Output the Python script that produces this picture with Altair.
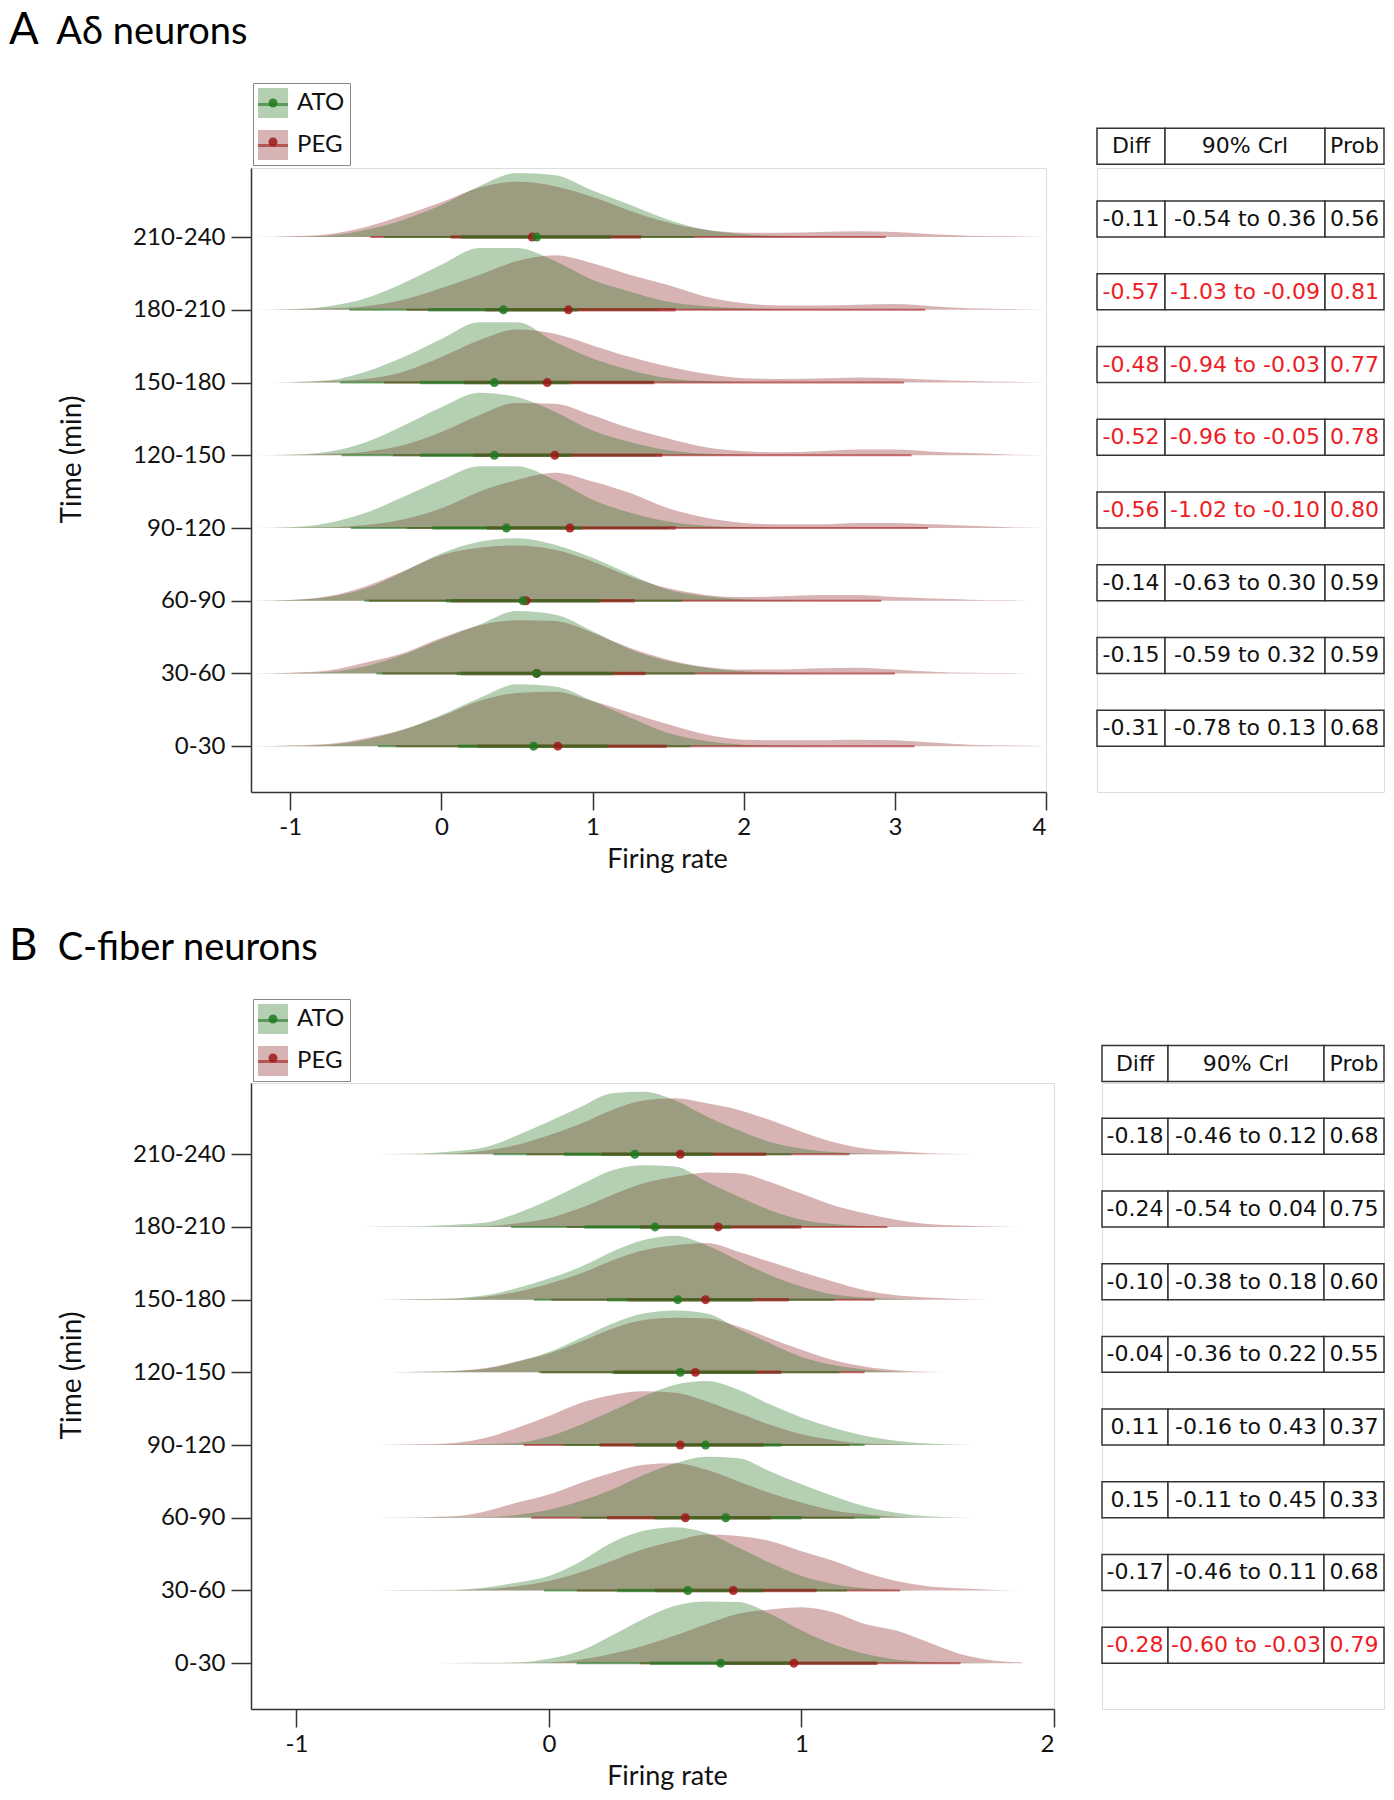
import json
import altair as alt
import pandas as pd

# ---------------------------------------------------------------- data
ROWS = ["0-30", "30-60", "60-90", "90-120", "120-150", "150-180", "180-210", "210-240"]
GROUPS = ["ATO", "PEG"]

# Panel A (A-delta neurons): density heights (in row units) sampled on XA
XA = [-1.25, -1.0, -0.75, -0.5, -0.25, 0.0, 0.25, 0.5, 0.75, 1.0, 1.25,
      1.5, 1.75, 2.0, 2.25, 2.5, 2.75, 3.0, 3.25, 3.5, 3.75, 4.0]
A_ATO = {
    "0-30":    [0, 0.005, 0.02, 0.09, 0.23, 0.43, 0.66, 0.85, 0.82, 0.62, 0.39, 0.18, 0.07, 0.02, 0.005, 0, 0, 0, 0, 0, 0, 0],
    "30-60":   [0, 0.005, 0.02, 0.10, 0.26, 0.47, 0.67, 0.86, 0.81, 0.58, 0.33, 0.17, 0.08, 0.03, 0.01, 0, 0, 0, 0, 0, 0, 0],
    "60-90":   [0, 0.01, 0.05, 0.17, 0.40, 0.65, 0.81, 0.86, 0.77, 0.59, 0.36, 0.15, 0.06, 0.02, 0.005, 0, 0, 0, 0, 0, 0, 0],
    "90-120":  [0, 0.01, 0.07, 0.21, 0.43, 0.66, 0.85, 0.85, 0.66, 0.39, 0.21, 0.09, 0.03, 0.01, 0, 0, 0, 0, 0, 0, 0, 0],
    "120-150": [0, 0.01, 0.05, 0.18, 0.41, 0.66, 0.86, 0.80, 0.60, 0.34, 0.18, 0.07, 0.02, 0.005, 0, 0, 0, 0, 0, 0, 0, 0],
    "150-180": [0, 0.005, 0.03, 0.15, 0.35, 0.60, 0.83, 0.83, 0.56, 0.33, 0.17, 0.06, 0.02, 0.005, 0, 0, 0, 0, 0, 0, 0, 0],
    "180-210": [0, 0.01, 0.05, 0.16, 0.37, 0.62, 0.85, 0.85, 0.67, 0.41, 0.25, 0.11, 0.05, 0.02, 0.005, 0, 0, 0, 0, 0, 0, 0],
    "210-240": [0, 0.005, 0.02, 0.10, 0.24, 0.44, 0.70, 0.88, 0.85, 0.64, 0.44, 0.24, 0.10, 0.04, 0.015, 0.005, 0, 0, 0, 0, 0, 0],
}
A_PEG = {
    "0-30":    [0, 0.01, 0.03, 0.11, 0.23, 0.41, 0.62, 0.73, 0.75, 0.62, 0.46, 0.30, 0.16, 0.09, 0.08, 0.08, 0.09, 0.08, 0.05, 0.02, 0.01, 0],
    "30-60":   [0, 0.01, 0.04, 0.15, 0.28, 0.49, 0.66, 0.73, 0.72, 0.56, 0.35, 0.19, 0.09, 0.055, 0.055, 0.07, 0.08, 0.055, 0.025, 0.01, 0.005, 0],
    "60-90":   [0, 0.01, 0.06, 0.20, 0.41, 0.63, 0.73, 0.76, 0.70, 0.54, 0.33, 0.17, 0.08, 0.05, 0.06, 0.08, 0.08, 0.05, 0.03, 0.015, 0.005, 0],
    "90-120":  [0, 0.005, 0.01, 0.04, 0.12, 0.27, 0.50, 0.66, 0.76, 0.64, 0.48, 0.27, 0.14, 0.07, 0.05, 0.05, 0.07, 0.07, 0.05, 0.03, 0.01, 0],
    "120-150": [0, 0.005, 0.02, 0.05, 0.14, 0.32, 0.55, 0.72, 0.71, 0.55, 0.37, 0.23, 0.11, 0.055, 0.04, 0.055, 0.08, 0.08, 0.05, 0.03, 0.01, 0],
    "150-180": [0, 0.005, 0.02, 0.05, 0.15, 0.35, 0.58, 0.73, 0.67, 0.51, 0.35, 0.22, 0.12, 0.06, 0.05, 0.055, 0.07, 0.06, 0.04, 0.02, 0.01, 0],
    "180-210": [0, 0.005, 0.02, 0.05, 0.14, 0.30, 0.48, 0.67, 0.75, 0.64, 0.48, 0.34, 0.18, 0.09, 0.06, 0.06, 0.07, 0.08, 0.05, 0.02, 0.01, 0],
    "210-240": [0, 0.01, 0.04, 0.14, 0.30, 0.48, 0.68, 0.76, 0.70, 0.55, 0.36, 0.20, 0.10, 0.06, 0.06, 0.07, 0.08, 0.07, 0.04, 0.02, 0.01, 0],
}
# point intervals: (median, lo66, hi66, lo95, hi95)
A_IV_ATO = {
    "0-30": (0.61, 0.11, 1.10, -0.42, 1.65), "30-60": (0.63, 0.10, 1.14, -0.43, 1.68),
    "60-90": (0.54, 0.03, 1.05, -0.51, 1.59), "90-120": (0.43, -0.06, 0.93, -0.60, 1.50),
    "120-150": (0.35, -0.14, 0.86, -0.66, 1.42), "150-180": (0.35, -0.14, 0.85, -0.67, 1.40),
    "180-210": (0.41, -0.09, 0.90, -0.61, 1.44), "210-240": (0.63, 0.13, 1.12, -0.38, 1.67),
}
A_IV_PEG = {
    "0-30": (0.77, 0.24, 1.49, -0.30, 3.13), "30-60": (0.63, 0.13, 1.35, -0.39, 3.00),
    "60-90": (0.56, 0.06, 1.28, -0.48, 2.91), "90-120": (0.85, 0.30, 1.55, -0.23, 3.22),
    "120-150": (0.75, 0.21, 1.46, -0.32, 3.11), "150-180": (0.70, 0.15, 1.41, -0.38, 3.06),
    "180-210": (0.84, 0.29, 1.55, -0.23, 3.20), "210-240": (0.60, 0.06, 1.32, -0.47, 2.94),
}
A_DIFF = ["-0.31", "-0.15", "-0.14", "-0.56", "-0.52", "-0.48", "-0.57", "-0.11"]
A_CRI = ["-0.78 to 0.13", "-0.59 to 0.32", "-0.63 to 0.30", "-1.02 to -0.10",
         "-0.96 to -0.05", "-0.94 to -0.03", "-1.03 to -0.09", "-0.54 to 0.36"]
A_PROB = ["0.68", "0.59", "0.59", "0.80", "0.78", "0.77", "0.81", "0.56"]
A_SIG = [False, False, False, True, True, True, True, False]

# Panel B (C-fiber neurons)
XB = [-0.875, -0.75, -0.625, -0.5, -0.375, -0.25, -0.125, 0.0, 0.125, 0.25, 0.375, 0.5,
      0.625, 0.75, 0.875, 1.0, 1.125, 1.25, 1.375, 1.5, 1.625, 1.75, 1.875]
B_ATO = {
    "0-30":    [0, 0, 0, 0, 0.003, 0.005, 0.01, 0.06, 0.17, 0.38, 0.61, 0.79, 0.85, 0.84, 0.68, 0.45, 0.26, 0.13, 0.05, 0.015, 0.005, 0, 0],
    "30-60":   [0, 0, 0.003, 0.005, 0.01, 0.04, 0.11, 0.20, 0.40, 0.66, 0.82, 0.87, 0.79, 0.59, 0.38, 0.20, 0.09, 0.03, 0.01, 0, 0, 0, 0],
    "60-90":   [0, 0, 0, 0.003, 0.006, 0.01, 0.04, 0.11, 0.23, 0.39, 0.59, 0.75, 0.84, 0.82, 0.64, 0.46, 0.30, 0.16, 0.07, 0.02, 0.005, 0, 0],
    "90-120":  [0, 0, 0, 0.003, 0.008, 0.015, 0.03, 0.12, 0.28, 0.47, 0.67, 0.83, 0.88, 0.76, 0.56, 0.38, 0.24, 0.13, 0.06, 0.02, 0.005, 0, 0],
    "120-150": [0, 0, 0.003, 0.008, 0.02, 0.05, 0.15, 0.28, 0.47, 0.67, 0.81, 0.85, 0.81, 0.60, 0.40, 0.21, 0.10, 0.04, 0.01, 0, 0, 0, 0],
    "150-180": [0, 0, 0.003, 0.008, 0.02, 0.06, 0.16, 0.29, 0.45, 0.66, 0.82, 0.88, 0.75, 0.54, 0.34, 0.18, 0.07, 0.03, 0.01, 0, 0, 0, 0],
    "180-210": [0, 0, 0.005, 0.01, 0.03, 0.06, 0.19, 0.37, 0.58, 0.78, 0.85, 0.83, 0.62, 0.42, 0.23, 0.10, 0.04, 0.01, 0, 0, 0, 0, 0],
    "210-240": [0, 0, 0.003, 0.01, 0.04, 0.10, 0.26, 0.45, 0.65, 0.84, 0.86, 0.74, 0.52, 0.33, 0.17, 0.08, 0.03, 0.01, 0, 0, 0, 0, 0],
}
B_PEG = {
    "0-30":    [0, 0, 0, 0, 0, 0.003, 0.005, 0.01, 0.05, 0.13, 0.24, 0.38, 0.54, 0.68, 0.74, 0.77, 0.70, 0.54, 0.45, 0.29, 0.13, 0.04, 0.01],
    "30-60":   [0, 0, 0, 0.002, 0.005, 0.02, 0.06, 0.13, 0.25, 0.41, 0.57, 0.68, 0.77, 0.75, 0.68, 0.54, 0.41, 0.25, 0.13, 0.06, 0.03, 0.01, 0],
    "60-90":   [0, 0, 0.003, 0.008, 0.02, 0.09, 0.21, 0.32, 0.48, 0.62, 0.73, 0.75, 0.66, 0.50, 0.34, 0.21, 0.10, 0.05, 0.015, 0, 0, 0, 0],
    "90-120":  [0, 0, 0.004, 0.01, 0.03, 0.10, 0.24, 0.40, 0.58, 0.69, 0.74, 0.72, 0.60, 0.44, 0.28, 0.15, 0.07, 0.02, 0.01, 0, 0, 0, 0],
    "120-150": [0, 0, 0.003, 0.008, 0.02, 0.06, 0.15, 0.26, 0.42, 0.60, 0.72, 0.75, 0.74, 0.63, 0.47, 0.31, 0.17, 0.08, 0.03, 0.01, 0, 0, 0],
    "150-180": [0, 0, 0, 0.004, 0.01, 0.04, 0.11, 0.22, 0.36, 0.54, 0.68, 0.75, 0.78, 0.66, 0.52, 0.38, 0.25, 0.13, 0.06, 0.03, 0.01, 0, 0],
    "180-210": [0, 0, 0, 0, 0.003, 0.01, 0.05, 0.12, 0.26, 0.44, 0.60, 0.69, 0.75, 0.74, 0.62, 0.46, 0.30, 0.19, 0.10, 0.04, 0.02, 0.005, 0],
    "210-240": [0, 0, 0, 0.003, 0.01, 0.05, 0.13, 0.26, 0.42, 0.61, 0.74, 0.77, 0.70, 0.61, 0.47, 0.31, 0.17, 0.08, 0.04, 0.015, 0.005, 0, 0],
}
B_IV_ATO = {
    "0-30": (0.68, 0.40, 0.95, 0.11, 1.30), "30-60": (0.55, 0.27, 0.85, -0.02, 1.18),
    "60-90": (0.70, 0.42, 1.00, 0.13, 1.31), "90-120": (0.62, 0.34, 0.92, 0.06, 1.25),
    "120-150": (0.52, 0.25, 0.82, -0.04, 1.15), "150-180": (0.51, 0.23, 0.81, -0.06, 1.13),
    "180-210": (0.42, 0.14, 0.72, -0.15, 0.98), "210-240": (0.34, 0.06, 0.65, -0.22, 0.96),
}
B_IV_PEG = {
    "0-30": (0.97, 0.67, 1.30, 0.36, 1.63), "30-60": (0.73, 0.42, 1.06, 0.11, 1.39),
    "60-90": (0.54, 0.23, 0.88, -0.07, 1.21), "90-120": (0.52, 0.20, 0.85, -0.10, 1.19),
    "120-150": (0.58, 0.26, 0.92, -0.03, 1.25), "150-180": (0.62, 0.31, 0.95, 0.01, 1.29),
    "180-210": (0.67, 0.36, 1.00, 0.07, 1.34), "210-240": (0.52, 0.21, 0.86, -0.09, 1.19),
}
B_DIFF = ["-0.28", "-0.17", "0.15", "0.11", "-0.04", "-0.10", "-0.24", "-0.18"]
B_CRI = ["-0.60 to -0.03", "-0.46 to 0.11", "-0.11 to 0.45", "-0.16 to 0.43",
         "-0.36 to 0.22", "-0.38 to 0.18", "-0.54 to 0.04", "-0.46 to 0.12"]
B_PROB = ["0.79", "0.68", "0.33", "0.37", "0.55", "0.60", "0.75", "0.68"]
B_SIG = [True, False, False, False, False, False, False, False]

HEADER = ["Diff", "90% Crl", "Prob"]

# ---------------------------------------------------------------- style / layout
FILL_COLORS = ["#1f6e19", "#89191c"]
LINE_COLORS = ["#1f7a1f", "#a01818"]
TXT_BLACK = "#111111"
TXT_RED = "#ee1c25"
AXIS_COLOR = "#333333"
CELL_H = 0.495  # table cell height in row units
LEAD = "\u200b" + "\u00a0" * 5   # keeps the sub-heading clear of the panel letter

LAYOUT = {
    "A": dict(width=795, height=624, xdom=[-1.26, 4.0], xticks=[-1, 0, 1, 2, 3, 4],
              ydom=[-0.63, 7.95], legend_y=-85, edges=[0, 68, 228, 287], gap=47, title_y=291),
    "B": dict(width=803, height=626, xdom=[-1.18, 2.0], xticks=[-1, 0, 1, 2],
              ydom=[-0.63, 7.98], legend_y=-84, edges=[0, 66, 222, 282], gap=44, title_y=292),
}
RESOLVE = dict(fill="independent", stroke="independent", color="independent")


def dens_frame(xs, d_ato, d_peg):
    recs = []
    for g, dens in (("PEG", d_peg), ("ATO", d_ato)):
        for i, r in enumerate(ROWS):
            for x, h in zip(xs, dens[r]):
                recs.append({"x": x, "top": i + h, "base": i, "row": r, "grp": g})
    return pd.DataFrame(recs)


def iv_frame(iv_ato, iv_peg):
    recs = []
    for g, iv in (("PEG", iv_peg), ("ATO", iv_ato)):
        for i, r in enumerate(ROWS):
            med, l66, h66, l95, h95 = iv[r]
            recs.append(dict(i=i, row=r, grp2=g, grp3=g, med=med,
                             lo66=l66, hi66=h66, lo95=l95, hi95=h95))
    return pd.DataFrame(recs)


def table_frame(diff, cri, prob, sig, edges):
    recs = []
    rows = [(len(ROWS), HEADER, False)] + [
        (i, [diff[i], cri[i], prob[i]], sig[i]) for i in range(len(ROWS))]
    for i, texts, red in rows:
        for c in range(3):
            recs.append(dict(x0=edges[c], x1=edges[c + 1], xm=(edges[c] + edges[c + 1]) / 2,
                             y0=i, y1=i + CELL_H, ym=i + CELL_H / 2, text=texts[c],
                             tone=TXT_RED if red else TXT_BLACK))
    return pd.DataFrame(recs)


def panel(letter, name, xs, d_ato, d_peg, iv_ato, iv_peg, diff, cri, prob, sig, lay):
    dd = dens_frame(xs, d_ato, d_peg)
    iv = iv_frame(iv_ato, iv_peg)
    tb = table_frame(diff, cri, prob, sig, lay["edges"])

    xsc = alt.Scale(domain=lay["xdom"], nice=False, zero=False)
    ysc = alt.Scale(domain=lay["ydom"], nice=False, zero=False)
    xaxis = alt.Axis(title="Firing rate", values=lay["xticks"], labelExpr="'' + datum.value",
                     grid=False, domainColor=AXIS_COLOR, domainWidth=1.5, tickColor=AXIS_COLOR,
                     tickWidth=1.5, tickSize=18, labelFont="Lato", labelFontSize=24,
                     labelColor=TXT_BLACK, labelPadding=5, titleFont="Lato", titleFontSize=27,
                     titleFontWeight="normal", titleColor=TXT_BLACK, titleX=416, titleY=54,
                     titleAlign="center", titleBaseline="top")
    yaxis = alt.Axis(title="Time (min)", values=list(range(len(ROWS))),
                     labelExpr=json.dumps(ROWS) + "[datum.value]",
                     grid=False, domainColor=AXIS_COLOR, domainWidth=1.5, tickColor=AXIS_COLOR,
                     tickWidth=1.5, tickSize=20, labelFont="Lato", labelFontSize=24,
                     labelColor=TXT_BLACK, labelPadding=6, titleFont="Lato", titleFontSize=28,
                     titleFontWeight="normal", titleColor=TXT_BLACK, titleX=-165,
                     titleY=lay["title_y"], titleAngle=270, titleAlign="center",
                     titleBaseline="bottom")

    common = dict(orient="none", legendY=lay["legend_y"], title=None, symbolSize=900,
                  labelFont="Lato", labelFontSize=24, labelColor=TXT_BLACK, labelOffset=9,
                  rowPadding=12, padding=5)
    leg_fill = alt.Legend(legendX=2, symbolType="square", symbolOpacity=0.33,
                          symbolStrokeWidth=0, strokeColor="#888888", **common)
    leg_line = alt.Legend(legendX=0.5, symbolType="M-1,0H1", symbolStrokeWidth=3,
                          symbolOpacity=0.6, labelExpr="''", **common)
    leg_dot = alt.Legend(legendX=2,
                         symbolType="M0.3,0A0.3,0.3,0,1,1,-0.3,0A0.3,0.3,0,1,1,0.3,0Z",
                         symbolStrokeWidth=0, symbolOpacity=0.85, labelExpr="''", **common)

    fill_sc = alt.Scale(domain=GROUPS, range=FILL_COLORS)
    line_sc = alt.Scale(range=LINE_COLORS)
    dot_sc = alt.Scale(range=LINE_COLORS)

    def area(g):
        return alt.Chart(dd).transform_filter(alt.datum.grp == g).mark_area(
            interpolate="monotone", fillOpacity=0.33, strokeWidth=0
        ).encode(
            x=alt.X("x:Q", scale=xsc, axis=xaxis),
            y=alt.Y("top:Q", scale=ysc, axis=yaxis),
            y2="base:Q",
            fill=alt.Fill("grp:N", scale=fill_sc, legend=leg_fill),
            detail="row:N",
        )

    def rule(lo, hi, w):
        return alt.Chart(iv).mark_rule(strokeWidth=w, opacity=0.6).encode(
            x=alt.X(f"{lo}:Q", scale=xsc, axis=xaxis),
            x2=f"{hi}:Q",
            y=alt.Y("i:Q", scale=ysc, axis=yaxis),
            stroke=alt.Stroke("grp2:N", scale=line_sc, legend=leg_line),
        )

    dots = alt.Chart(iv).mark_circle(size=80, opacity=0.85).encode(
        x=alt.X("med:Q", scale=xsc, axis=xaxis),
        y=alt.Y("i:Q", scale=ysc, axis=yaxis),
        color=alt.Color("grp3:N", scale=dot_sc, legend=leg_dot),
    )

    title = alt.TitleParams(
        text=letter, subtitle=LEAD + name, anchor="start", frame="group", dx=-242,
        offset=30, font="Lato", fontSize=44, fontWeight="normal", color="#000000",
        subtitleFont="Lato", subtitleFontSize=38, subtitleFontWeight="normal",
        subtitleColor="#000000", subtitlePadding=-39)

    ridge = alt.layer(area("PEG"), area("ATO"), rule("lo95", "hi95", 2),
                      rule("lo66", "hi66", 3.5), dots).properties(
        width=lay["width"], height=lay["height"], title=title)

    W = lay["edges"][-1]
    txs = alt.Scale(domain=[0, W], nice=False, zero=False)
    tys = alt.Scale(domain=lay["ydom"], nice=False, zero=False)
    cells = alt.Chart(tb).mark_rect(fill="white", stroke=AXIS_COLOR, strokeWidth=1.5).encode(
        x=alt.X("x0:Q", scale=txs, axis=None), x2="x1:Q",
        y=alt.Y("y0:Q", scale=tys, axis=None), y2="y1:Q",
    )
    texts = alt.Chart(tb).mark_text(font="DejaVu Sans", fontSize=22, baseline="middle",
                                     align="center").encode(
        x=alt.X("xm:Q", scale=txs, axis=None),
        y=alt.Y("ym:Q", scale=tys, axis=None),
        text="text:N",
        color=alt.Color("tone:N", scale=None),
    )
    table = alt.layer(cells, texts).properties(width=W, height=lay["height"])
    return alt.hconcat(ridge, table, spacing=lay["gap"]).resolve_scale(
        **RESOLVE).resolve_legend(**RESOLVE)


pA = panel("A", "A\u03b4 neurons", XA, A_ATO, A_PEG, A_IV_ATO, A_IV_PEG,
           A_DIFF, A_CRI, A_PROB, A_SIG, LAYOUT["A"])
pB = panel("B", "C-fiber neurons", XB, B_ATO, B_PEG, B_IV_ATO, B_IV_PEG,
           B_DIFF, B_CRI, B_PROB, B_SIG, LAYOUT["B"])

chart = alt.vconcat(pA, pB, spacing=51).resolve_scale(**RESOLVE).resolve_legend(
    **RESOLVE).properties(padding=0).configure_view(strokeWidth=0).configure(font="Lato")

chart.save("out.html", embed_options={"renderer": "svg", "actions": False})
